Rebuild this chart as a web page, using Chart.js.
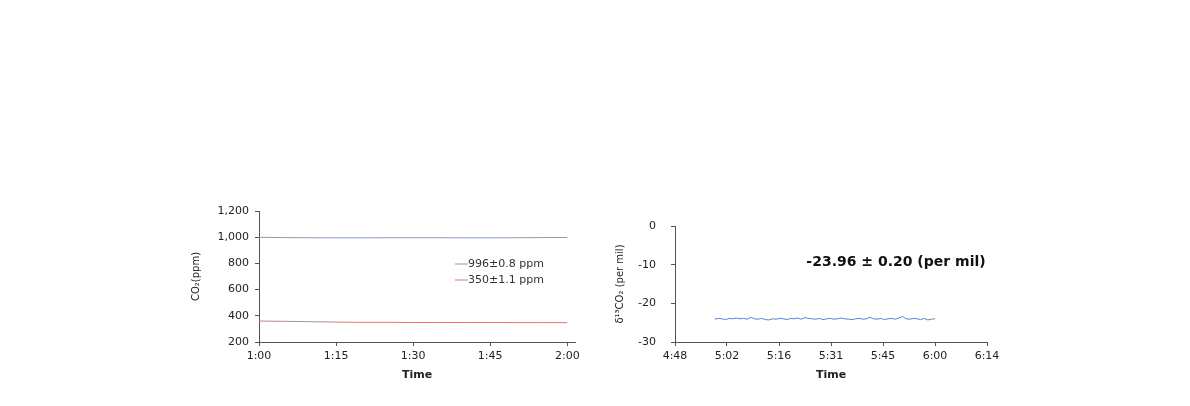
<!DOCTYPE html>
<html>
<head>
<meta charset="utf-8">
<script src="https://cdn.jsdelivr.net/npm/chart.js@4/dist/chart.umd.min.js"></script>
<style>
  html, body { margin: 0; padding: 0; background: #fff; }
  body { width: 1190px; height: 406px; position: relative; overflow: hidden; }
  .box { position: absolute; }
  #leftBox { left: 150px; top: 195px; width: 440px; height: 195px; }
  #rightBox { left: 600px; top: 210px; width: 410px; height: 180px; }
</style>
</head>
<body>
<div class="box" id="leftBox"><canvas id="co2Chart"></canvas></div>
<div class="box" id="rightBox"><canvas id="isoChart"></canvas></div>
<script>
/* -----------------------------
   Data (minutes after midnight)
------------------------------ */
const co2Times = [60, 65, 70, 75, 80, 85, 90, 95, 100, 105, 110, 115, 120];
const co2High = [999, 997, 996, 995, 995, 996, 996, 996, 995, 995, 996, 997, 998];
const co2Low = [360, 358, 355, 352, 350, 350, 349, 349, 349, 349, 348, 348, 348];
const co2Legend = ['996\u00b10.8 ppm', '350\u00b11.1 ppm'];
const co2XTicks = [60, 75, 90, 105, 120];
const co2XLabels = ['1:00', '1:15', '1:30', '1:45', '2:00'];

const isoTimes = [
  299, 300, 301, 302, 303, 304, 305, 306, 307, 308,
  309, 310, 311, 312, 313, 314, 315, 316, 317, 318,
  319, 320, 321, 322, 323, 324, 325, 326, 327, 328,
  329, 330, 331, 332, 333, 334, 335, 336, 337, 338,
  339, 340, 341, 342, 343, 344, 345, 346, 347, 348,
  349, 350, 351, 352, 353, 354, 355, 356, 357, 358,
  359, 360
];
const isoValues = [
  -24.1, -23.9, -24.0, -24.2, -23.9, -24.0, -23.8, -24.0, -23.9, -24.1,
  -23.6, -24.0, -24.1, -23.9, -24.2, -24.3, -24.0, -24.1, -23.9, -24.0,
  -24.2, -23.9, -24.0, -23.8, -24.1, -23.7, -23.9, -24.0, -24.1, -23.9,
  -24.2, -24.0, -23.9, -24.1, -24.0, -23.8, -24.0, -24.1, -24.2, -24.0,
  -23.9, -24.1, -24.0, -23.6, -24.0, -24.1, -23.9, -24.2, -24.0, -23.9,
  -24.1, -23.8, -23.4, -24.0, -24.1, -23.9, -24.0, -24.2, -23.9, -24.3,
  -24.1, -24.0
];
const isoXTicks = [288, 302.4, 316.8, 331.2, 345.6, 360, 374.4];
const isoXLabels = ['4:48', '5:02', '5:16', '5:31', '5:45', '6:00', '6:14'];
const isoNote = '-23.96 \u00b1 0.20 (per mil)';

/* -----------------------------
   Shared styling
------------------------------ */
const FONT = 'DejaVu Sans';
const TEXT = '#222';
const AXIS = '#555';
Chart.defaults.font.family = FONT;
Chart.defaults.color = TEXT;

function axisGrid() {
  return { display: true, drawOnChartArea: false, drawTicks: true, tickLength: 4, color: AXIS };
}

function toPoints(xs, ys) {
  return xs.map((x, i) => ({ x: x, y: ys[i] }));
}

// fixed tick positions, labels looked up by index
function fixedTicks(values) {
  return function (scale) {
    scale.ticks = values.map(v => ({ value: v }));
  };
}

/* -----------------------------
   Left chart: CO2 concentration
------------------------------ */
const co2LegendPlugin = {
  id: 'co2Legend',
  afterDraw(chart) {
    const ctx = chart.ctx;
    const colors = [chart.data.datasets[0].borderColor, chart.data.datasets[1].borderColor];
    ctx.save();
    ctx.font = '11px ' + FONT;
    ctx.textBaseline = 'middle';
    co2Legend.forEach((label, i) => {
      const y = 69 + i * 16;
      ctx.strokeStyle = colors[i];
      ctx.lineWidth = 1;
      ctx.beginPath();
      ctx.moveTo(305, y);
      ctx.lineTo(318, y);
      ctx.stroke();
      ctx.fillStyle = '#333';
      ctx.fillText(label, 318, y);
    });
    ctx.restore();
  }
};

new Chart(document.getElementById('co2Chart'), {
  type: 'line',
  data: {
    datasets: [
      { data: toPoints(co2Times, co2High), borderColor: '#7f9fcf', borderWidth: 1, pointRadius: 0, tension: 0 },
      { data: toPoints(co2Times, co2Low), borderColor: '#c98080', borderWidth: 1, pointRadius: 0, tension: 0 }
    ]
  },
  options: {
    responsive: true,
    maintainAspectRatio: false,
    animation: false,
    layout: { padding: { left: 40, top: 16, right: 15, bottom: 8 } },
    plugins: { legend: { display: false }, tooltip: { enabled: false } },
    scales: {
      x: {
        type: 'linear', min: 60, max: 121.5,
        afterBuildTicks: fixedTicks(co2XTicks),
        afterFit(scale) { scale.height = 40; },
        grid: axisGrid(),
        border: { display: true, color: AXIS, width: 1 },
        ticks: {
          padding: 4, maxRotation: 0, autoSkip: false, font: { size: 11 },
          callback: (v, i) => co2XLabels[i]
        },
        title: { display: true, text: 'Time', font: { size: 11, weight: 'bold' }, padding: { top: 6, bottom: 0 } }
      },
      y: {
        min: 200, max: 1200,
        afterFit(scale) { scale.width = 69; },
        grid: axisGrid(),
        border: { display: true, color: AXIS, width: 1 },
        ticks: {
          stepSize: 200, padding: 6, font: { size: 11 },
          callback: v => v.toLocaleString('en-US')
        },
        title: { display: true, text: 'CO\u2082(ppm)', font: { size: 10 }, padding: { top: 0, bottom: 4 } }
      }
    }
  },
  plugins: [co2LegendPlugin]
});

/* -----------------------------
   Right chart: delta 13C
------------------------------ */
const isoNotePlugin = {
  id: 'isoNote',
  afterDraw(chart) {
    const ctx = chart.ctx;
    const x = chart.scales.x.getPixelForValue(349.2);
    const y = chart.scales.y.getPixelForValue(-9.3);
    ctx.save();
    ctx.font = 'bold 14px ' + FONT;
    ctx.fillStyle = '#111';
    ctx.textAlign = 'center';
    ctx.textBaseline = 'middle';
    ctx.fillText(isoNote, x, y);
    ctx.restore();
  }
};

new Chart(document.getElementById('isoChart'), {
  type: 'line',
  data: {
    datasets: [
      { data: toPoints(isoTimes, isoValues), borderColor: '#5b84c4', borderWidth: 1, pointRadius: 0, tension: 0 }
    ]
  },
  options: {
    responsive: true,
    maintainAspectRatio: false,
    animation: false,
    layout: { padding: { left: 14, top: 16, right: 23, bottom: 8 } },
    plugins: { legend: { display: false }, tooltip: { enabled: false } },
    scales: {
      x: {
        type: 'linear', min: 288, max: 374.4,
        afterBuildTicks: fixedTicks(isoXTicks),
        afterFit(scale) { scale.height = 40; },
        grid: axisGrid(),
        border: { display: true, color: AXIS, width: 1 },
        ticks: {
          padding: 4, maxRotation: 0, autoSkip: false, font: { size: 11 },
          callback: (v, i) => isoXLabels[i]
        },
        title: { display: true, text: 'Time', font: { size: 11, weight: 'bold' }, padding: { top: 6, bottom: 0 } }
      },
      y: {
        min: -30, max: 0,
        // wide label gap would otherwise push the plot top down
        afterFit(scale) { scale.width = 61; scale.paddingTop = 7; scale.paddingBottom = 7; },
        grid: axisGrid(),
        border: { display: true, color: AXIS, width: 1 },
        ticks: { stepSize: 10, padding: 15, font: { size: 11 } },
        title: { display: true, text: '\u03b4\u00b9\u00b3CO\u2082 (per mil)', font: { size: 10 }, padding: { top: 0, bottom: 4 } }
      }
    }
  },
  plugins: [isoNotePlugin]
});
</script>
</body>
</html>
